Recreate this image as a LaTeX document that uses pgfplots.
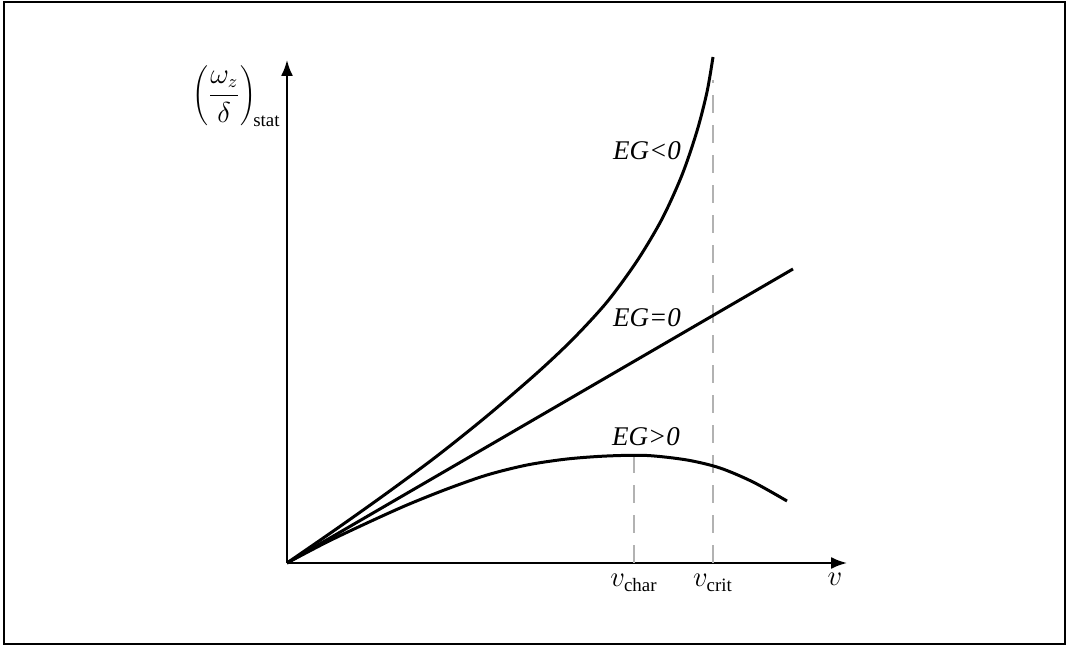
\documentclass[border=0pt]{standalone}
\usepackage{pgfplots}
\pgfplotsset{compat=1.18}
\usepackage{fontspec}
\setmainfont{Liberation Serif}
\usetikzlibrary{arrows.meta}
\tikzset{lab/.style={font=\fontsize{13.5}{16}\selectfont}}
\begin{document}
\begin{tikzpicture}
\begin{axis}[
  x=0.5pt, y=0.5pt,
  xmin=0, xmax=560, ymin=0, ymax=503,
  axis lines=left,
  axis line style={line width=1pt, -{Latex[length=8pt,width=6pt]}},
  xtick=\empty, ytick=\empty,
  clip=false,
]
% frame and page extent
\path (axis cs:-287,-83) rectangle (axis cs:781,563);
\draw[line width=1.3pt] (axis cs:-283,-81) rectangle (axis cs:778,561);
% dashed guides
\addplot[gray!60, line width=0.7pt, dash pattern=on 9pt off 6pt] coordinates {(347,0) (347,108)};
\addplot[gray!60, line width=0.7pt, dash pattern=on 9pt off 6pt] coordinates {(426,0) (426,483)};
% EG<0
\addplot[black, line width=1.5pt, smooth] coordinates {
(0,0) (50,34.5) (100,70) (150,107) (200,147) (250,190) (286,224) (320,261) (350,302) (375,344) (395,388) (410,432) (420,471) (426,506)};
% EG=0
\addplot[black, line width=1.5pt] coordinates {(0,0) (506,294)};
% EG>0
\addplot[black, line width=1.5pt, smooth] coordinates {
(0,0) (40,21) (80,40) (120,58) (160,74) (200,88) (240,98) (280,104) (320,107) (360,107.5) (400,103) (433,95) (466,81) (500,62)};
% labels
\node[lab] at (axis cs:360,412) {\itshape EG<0};
\node[lab] at (axis cs:360,245) {\itshape EG=0};
\node[lab] at (axis cs:359,126) {\itshape EG>0};
\node[lab, anchor=base, inner sep=0pt] at (axis cs:347,-24) {$v_{\mathrm{char}}$};
\node[lab, anchor=base, inner sep=0pt] at (axis cs:426,-24) {$v_{\mathrm{crit}}$};
\node[lab, anchor=base, inner sep=0pt] at (axis cs:548,-23) {$v$};
\node[lab, anchor=east, inner sep=0pt] at (axis cs:-6,467) {$\displaystyle\left(\frac{\omega_z}{\delta}\right)_{\!\mathrm{stat}}$};
\end{axis}
\end{tikzpicture}
\end{document}
